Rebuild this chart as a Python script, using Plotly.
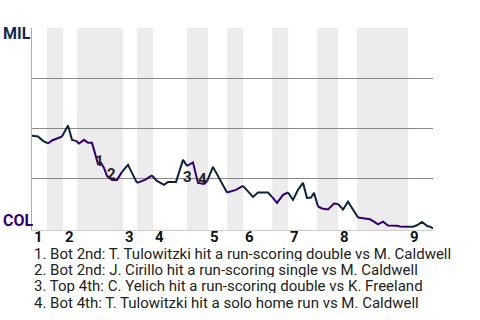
import plotly.graph_objects as go

# ---- data (play index along game, MIL win probability %) ----
plays = [0, 1.35, 2.47, 3.59, 4.49, 5.61, 6.73, 8.08, 8.98, 9.88, 10.55, 11.67, 12.57, 13.47,
         14.14, 14.81, 15.49, 16.16, 16.83, 17.96, 19.08, 20.2, 21.55, 22.44, 23.57, 25.36,
         26.93, 28.05, 29.63, 30.52, 32.32, 33.89, 34.79, 36.13, 37.26, 38.6, 39.28, 40.62,
         43.76, 45.78, 47.36, 49.6, 50.72, 52.97, 53.87, 54.99, 56.34, 57.46, 58.58, 59.7,
         60.82, 61.72, 62.62, 63.29, 64.19, 65.09, 66.44, 67.78, 68.68, 69.8, 70.92, 73.17,
         74.07, 74.96, 75.86, 76.76, 77.66, 78.78, 79.9, 81.92, 82.59, 84.16, 85.51, 86.41,
         87.53, 88.65, 89.32, 90]
mil_wp = [46.2, 45.9, 43.7, 42.4, 43.9, 44.9, 45.9, 51.4, 44.2, 43.7, 42.4, 44.2, 42.7, 42.7,
          37.7, 32.2, 32.7, 30.2, 26.2, 24.2, 24.2, 28.2, 31.7, 27.7, 22.7, 24.2,
          26.4, 23.7, 21.7, 23.2, 23.2, 34.2, 31.2, 32.9, 22.7, 22.2, 23.4, 30.7,
          17.9, 19.2, 21.2, 15.7, 17.9, 17.9, 15.7, 12.7, 16.7, 17.9, 14.2, 19.2,
          22.7, 15.2, 15.4, 17.7, 10.9, 9.9, 9.4, 12.4, 12.2, 9.4, 13.3, 5.4,
          5.0, 4.9, 4.5, 3.3, 2.0, 3.3, 1.4, 1.25, 0.9, 0.8, 0.8, 1.5,
          3.2, 1.2, 0.8, 0.0]

# start of each half inning (top 1, bot 1, top 2, ...), then game end
half_starts = [0, 3.37, 6.96, 10.1, 20.4, 23.6, 27.2, 34.8, 39.5, 43.8, 47.4, 53.9,
               57.5, 64.0, 68.7, 72.9, 84.4]
game_end = 90
inning_labels = ["1", "2", "3", "4", "5", "6", "7", "8", "9"]

event_marks = ["1", "2", "3", "4"]
event_play_idx = [15, 19, 31, 34]
event_texts = [
    "1. Bot 2nd: T. Tulowitzki hit a run-scoring double vs M. Caldwell",
    "2. Bot 2nd: J. Cirillo hit a run-scoring single vs M. Caldwell",
    "3. Top 4th: C. Yelich hit a run-scoring double vs K. Freeland",
    "4. Bot 4th: T. Tulowitzki hit a solo home run vs M. Caldwell",
]

NAVY = "#0c2340"
PURPLE = "#33006f"

fig = go.Figure()

# bottom-half shading
for j in range(1, len(half_starts), 2):
    x1 = half_starts[j + 1] if j + 1 < len(half_starts) else game_end
    fig.add_shape(type="rect", xref="x", yref="paper", x0=half_starts[j], x1=x1,
                  y0=0, y1=1, fillcolor="#ececec", line_width=0, layer="below")


def half_of(x):
    h = 0
    for j, s in enumerate(half_starts):
        if s <= x:
            h = j
    return h


# line, coloured by batting team
segs = []
for i in range(1, len(plays)):
    mid = (plays[i - 1] + plays[i]) / 2
    col = NAVY if half_of(mid) % 2 == 0 else PURPLE
    if segs and segs[-1][0] == col:
        segs[-1][1].append(i)
    else:
        segs.append([col, [i - 1, i]])
for col, idx in segs:
    fig.add_trace(go.Scatter(x=[plays[k] for k in idx], y=[mil_wp[k] for k in idx],
                             mode="lines", line=dict(color=col, width=2),
                             hoverinfo="skip"))

# event markers on the line
shifts = [(2, 3), (-1, 6), (4, -17), (4, 4)]
for m, k, (dx, dy) in zip(event_marks, event_play_idx, shifts):
    fig.add_annotation(x=plays[k], y=mil_wp[k], text=f"<b>{m}</b>", showarrow=False,
                       xshift=dx, yshift=dy, height=13, font=dict(size=15, color="#222"))

# inning labels
for lab, k in zip(inning_labels, range(0, len(half_starts), 2)):
    fig.add_annotation(x=half_starts[k], xref="x", y=-0.036, yref="paper",
                       text=f"<b>{lab}</b>", showarrow=False, xanchor="left",
                       yanchor="middle", height=12, font=dict(size=15, color="#111"))

# team labels
fig.add_annotation(x=-0.077, xref="paper", y=0.973, yref="paper", text="<b>MIL</b>",
                   showarrow=False, xanchor="left", yanchor="middle", height=14,
                   font=dict(size=16, color="#12284b"))
fig.add_annotation(x=-0.077, xref="paper", y=0.05, yref="paper", text="<b>COL</b>",
                   showarrow=False, xanchor="left", yanchor="middle", height=14,
                   font=dict(size=16, color=PURPLE))

# footnotes
for i, t in enumerate(event_texts):
    fig.add_annotation(x=0.0, xref="paper", y=-(23 + i * 16.4) / 202,
                       yref="paper", text=t, showarrow=False, xanchor="left",
                       yanchor="middle", height=15, font=dict(size=15, color="#222"))

fig.update_layout(
    width=480, height=320,
    margin=dict(l=32, r=47, t=28, b=90),
    paper_bgcolor="white", plot_bgcolor="white",
    showlegend=False,
    font=dict(family="Roboto"),
    xaxis=dict(range=[0, game_end], showgrid=False, zeroline=False, showticklabels=False,
               ticks="", showline=True, linecolor="#cccccc", linewidth=1, fixedrange=True),
    yaxis=dict(range=[-0.85, 100.1], tickvals=[25, 50, 75, 100], showticklabels=False,
               ticks="", showgrid=True, gridcolor="#888888", gridwidth=1, zeroline=False,
               showline=True, linecolor="#aaaaaa", linewidth=1, fixedrange=True),
)

fig.write_html("out.html", config={"displayModeBar": False})
